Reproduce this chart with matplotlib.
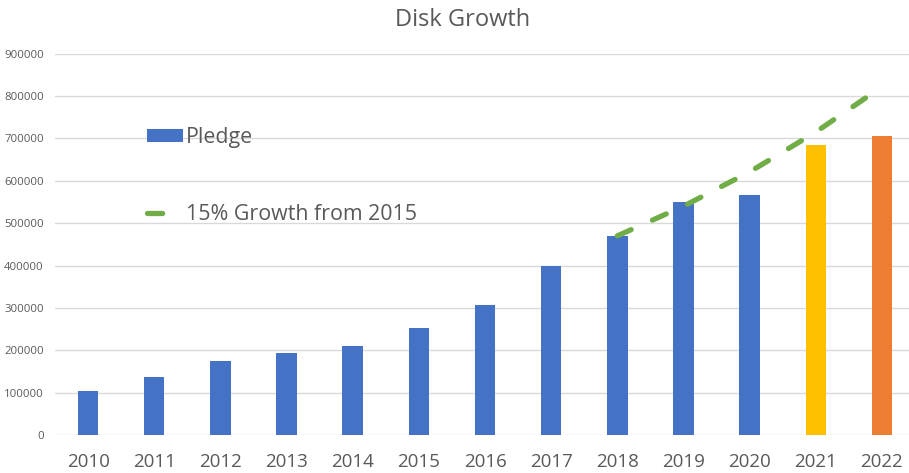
import matplotlib
matplotlib.use("Agg")
import matplotlib.pyplot as plt
from matplotlib.patches import Patch
from matplotlib.lines import Line2D

years = ["2010", "2011", "2012", "2013", "2014", "2015", "2016",
         "2017", "2018", "2019", "2020", "2021", "2022"]
pledge = [104000, 137000, 175000, 194000, 210000, 252000, 307000,
          398000, 470000, 550000, 566000, 685000, 705000]
bar_colors = ["#4472C4"] * 11 + ["#FFC000", "#ED7D31"]
growth_years = ["2018", "2019", "2020", "2021", "2022"]
growth = [470000, 540000, 621000, 715000, 822000]
yticks = [0, 100000, 200000, 300000, 400000, 500000, 600000, 700000, 800000, 900000]

plt.rcParams['font.family'] = ['Open Sans', 'DejaVu Sans']
txt = "#595959"
lw = 3.8
dash = (2.87, 4.42)

fig = plt.figure(figsize=(9.09, 4.73), dpi=100)
W, H = 909, 473
left, right, bottom, top = 55, 915, 435, 53.7
ax = fig.add_axes([left / W, (H - bottom) / H, (right - left) / W, (bottom - top) / H])

x = list(range(len(years)))
ax.bar(x, pledge, width=0.31, color=bar_colors, zorder=3)
gx = [years.index(y) for y in growth_years]
ax.plot(gx, growth, color="#70AD47", lw=lw, dashes=dash,
        dash_capstyle="round", solid_capstyle="round", zorder=4)

ax.set_xlim(-0.5, len(years) - 0.5)
ax.set_ylim(0, 900000)
ax.set_yticks(yticks)
ax.set_yticklabels([str(v) for v in yticks])
ax.set_xticks(x)
ax.set_xticklabels(years)
ax.tick_params(axis="y", length=0, pad=8, labelsize=8.2, labelcolor=txt)
ax.tick_params(axis="x", length=0, pad=13, labelsize=13.5, labelcolor=txt)
ax.grid(axis="y", color="#D9D9D9", lw=1.0, zorder=0)
ax.set_axisbelow(True)
for s in ax.spines.values():
    s.set_visible(False)

fig.text(463 / W, 1 - 20 / H, "Disk Growth", ha="center", va="center",
         fontsize=17, color=txt)

handles = [Patch(facecolor="#4472C4", edgecolor="none"),
           Line2D([0], [0], color="#70AD47", lw=lw, dashes=dash,
                  dash_capstyle="round")]
leg = ax.legend(handles, ["Pledge", "15% Growth from 2015"],
                loc="upper left", bbox_to_anchor=(147 / W, 1 - 127 / H),
                bbox_transform=fig.transFigure, frameon=False,
                fontsize=15.4, labelcolor=txt, handlelength=1.68,
                handleheight=0.61, handletextpad=0.15, labelspacing=2.63,
                borderpad=0, borderaxespad=0)

fig.savefig("out.png", dpi=100)
